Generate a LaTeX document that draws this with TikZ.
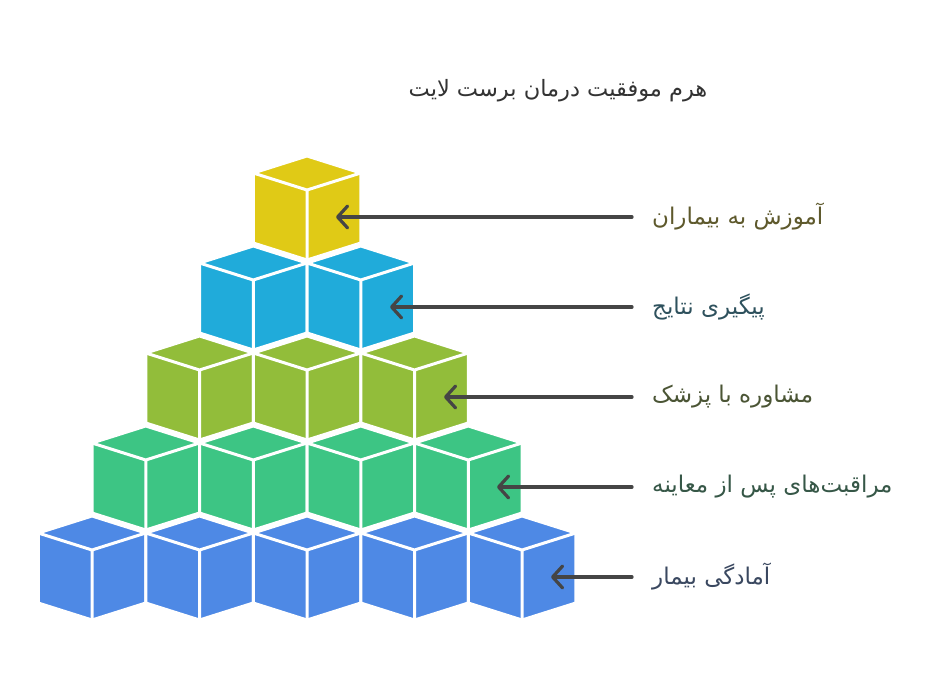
\documentclass[tikz,border=0pt]{standalone}
\usepackage{fontspec}
\usetikzlibrary{arrows.meta}
\TeXXeTstate=1
\newfontfamily\arabicfont[Script=Arabic]{DejaVu Sans}

\definecolor{cubeyellow}{HTML}{E0CA16}
\definecolor{cubecyan}{HTML}{20ABDA}
\definecolor{cubeolive}{HTML}{92BD3A}
\definecolor{cubegreen}{HTML}{3DC584}
\definecolor{cubeblue}{HTML}{4E89E5}
\definecolor{pointergray}{HTML}{454545}
\definecolor{textgray}{HTML}{333333}

\tikzset{
  pics/isocube/.style={code={
    \path[fill=#1, draw=white, line width=3pt, line join=round]
      (0,0) -- (53.75,17) -- (53.75,87) -- (0,104) -- (-53.75,87) -- (-53.75,17) -- cycle;
    \draw[white, line width=3pt, line join=round]
      (-53.75,17) -- (0,34) -- (53.75,17) (0,34) -- (0,104);
  }},
  pointer/.style={draw=pointergray, line width=3.2pt, line cap=round,
    -{Straight Barb[length=10pt,width=22pt,round]}},
  tierlabel/.style={anchor=west, inner xsep=20pt, inner ysep=0pt,
    font=\arabicfont\fontsize{23}{26}\selectfont}
}

\begin{document}
\begin{tikzpicture}[x=1pt,y=-1pt]

        \useasboundingbox[fill=white] (0,0) rectangle (939,696);

        % title
        \node[font=\arabicfont\fontsize{22.5}{26}\selectfont, text=textgray] (title) at (558,91)
          {\beginR هرم موفقیت درمان برست لایت\endR};

        % pyramid, top row first
        \pic at (307,156) {isocube=cubeyellow};

        \pic at (253.25,246) {isocube=cubecyan};
        \pic at (360.75,246) {isocube=cubecyan};

        \pic at (199.5,336) {isocube=cubeolive};
        \pic at (307,336)   {isocube=cubeolive};
        \pic at (414.5,336) {isocube=cubeolive};

        \pic at (145.75,426) {isocube=cubegreen};
        \pic at (253.25,426) {isocube=cubegreen};
        \pic at (360.75,426) {isocube=cubegreen};
        \pic at (468.25,426) {isocube=cubegreen};

        \pic at (92,516)  {isocube=cubeblue};
        \pic at (199.5,516) {isocube=cubeblue};
        \pic at (307,516) {isocube=cubeblue};
        \pic at (414.5,516) {isocube=cubeblue};
        \pic at (522,516) {isocube=cubeblue};

        % face points
        \coordinate (face1) at (336,217);
        \coordinate (face2) at (390,307);
        \coordinate (face3) at (444,397);
        \coordinate (face4) at (497,487);
        \coordinate (face5) at (551,577);

        % labels
        \node[tierlabel, text=cubeyellow!25!textgray] (lab1) at (632,217) {\beginR آموزش به بیماران\endR};
        \node[tierlabel, text=cubecyan!25!textgray]   (lab2) at (632,307) {\beginR پیگیری نتایج\endR};
        \node[tierlabel, text=cubeolive!25!textgray]  (lab3) at (632,397) {\beginR مشاوره با پزشک\endR};
        \node[tierlabel, text=cubegreen!25!textgray]  (lab4) at (632,487) {\beginR مراقبت‌های پس از معاینه\endR};
        \node[tierlabel, text=cubeblue!25!textgray]   (lab5) at (632,577) {\beginR آمادگی بیمار\endR};

        \draw[pointer] (lab1.west) -- (face1);
        \draw[pointer] (lab2.west) -- (face2);
        \draw[pointer] (lab3.west) -- (face3);
        \draw[pointer] (lab4.west) -- (face4);
        \draw[pointer] (lab5.west) -- (face5);

      \end{tikzpicture}
\end{document}
